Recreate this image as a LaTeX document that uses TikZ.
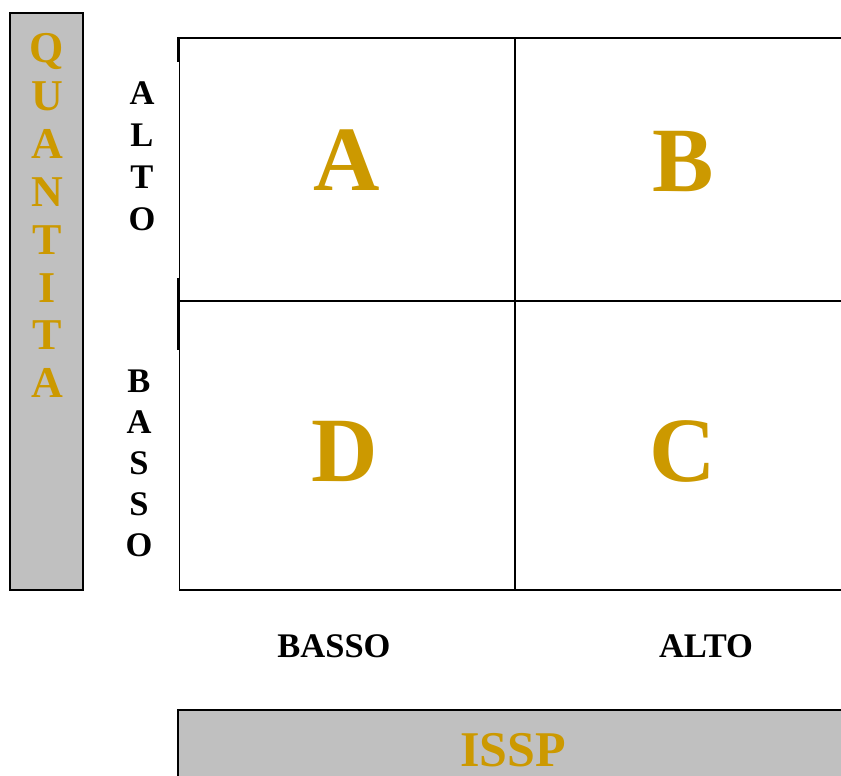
\documentclass[tikz,border=0pt]{standalone}
\usepackage{fontspec}
\setmainfont{Liberation Serif}
\usetikzlibrary{positioning}
\usepackage{xcolor}
\definecolor{qgold}{HTML}{CC9900}
\definecolor{qgray}{HTML}{C0C0C0}

\begin{document}
\begin{tikzpicture}[x=1pt, y=-1pt,
    letter/.style={inner sep=0pt, anchor=base},
    bigletter/.style={letter, text=qgold, font=\bfseries\fontsize{92}{92}\selectfont},
    sideletter/.style={letter, font=\bfseries\fontsize{34.5}{34.5}\selectfont},
    axisletter/.style={letter, text=qgold, font=\bfseries\fontsize{44}{44}\selectfont},
    axisbox/.style={draw=black, fill=qgray, line width=1.5pt},
    gridline/.style={line width=1.4pt}]
  \clip (0,0) rectangle (841,776);
  \useasboundingbox (0,0) rectangle (841,776);
  % axis boxes
  \draw[axisbox] (10,13) rectangle (83,590);
  \draw[axisbox] (178,710) rectangle (860,800);
  \foreach \ch [count=\i] in {Q,U,A,N,T,I,T,A}
    \node[axisletter] (q\i) at (47,63+47.8*\i-47.8) {\ch};
  \node[axisletter, font=\bfseries\fontsize{50}{50}\selectfont] (issp) at (513,766) {ISSP};
  % quadrant grid
  \draw[gridline] (179,38) -- (850,38);
  \draw[gridline] (179,301) -- (850,301);
  \draw[gridline] (179,590) -- (850,590);
  \draw[gridline] (515,38) -- (515,590);
  \draw[line width=0.8pt] (179,38) -- (179,590);
  \draw[line width=2.2pt] (178,37) -- (178,62);
  \draw[line width=2.2pt] (178,278) -- (178,350);
  \node[bigletter] (qa) at (347,190) {A};
  \node[bigletter] (qb) at (683,191) {B};
  \node[bigletter] (qd) at (345,481) {D};
  \node[bigletter] (qc) at (683,481) {C};
  % side labels
  \foreach \ch [count=\i] in {A,L,T,O}
    \node[sideletter] (alto\i) at (142,104+42*\i-42) {\ch};
  \foreach \ch [count=\i] in {B,A,S,S,O}
    \node[sideletter] (basso\i) at (139,392+41.2*\i-41.2) {\ch};
  \node[sideletter] (xbasso) at (334,657) {BASSO};
  \node[sideletter] (xalto) at (706,657) {ALTO};
\end{tikzpicture}
\end{document}
